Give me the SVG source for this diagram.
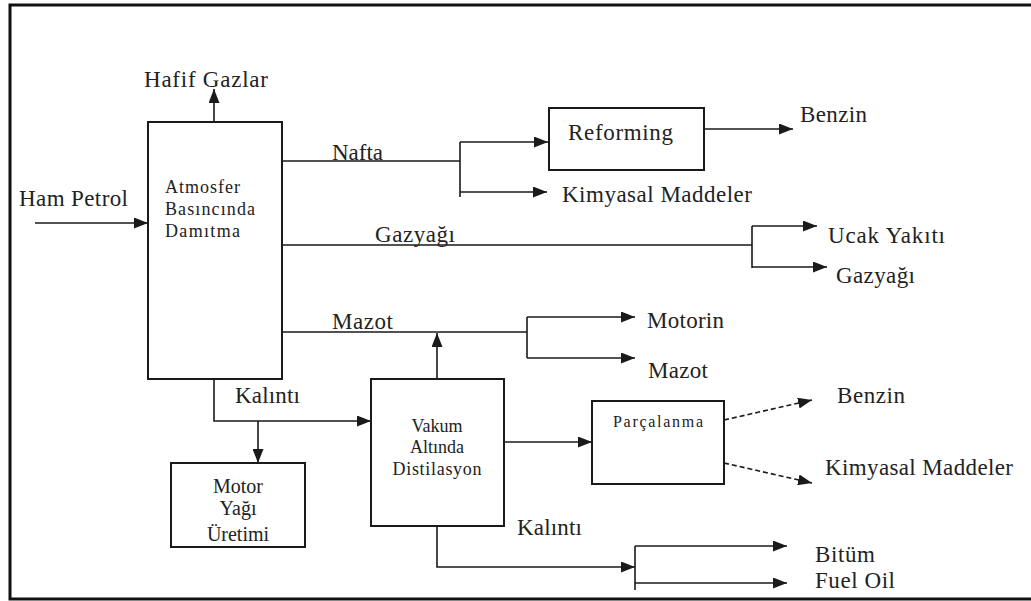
<svg xmlns="http://www.w3.org/2000/svg" width="1031" height="601" viewBox="0 0 1031 601">
<style>
.box{fill:#fff;stroke:#1a1a1a;stroke-width:2}
.ln{fill:none;stroke:#1a1a1a;stroke-width:1.6}
.dash{stroke-dasharray:5,3}
text{font-family:'Liberation Serif','DejaVu Serif',serif;fill:#222}
.t{font-size:23px}
.s{font-size:18px}
.c{text-anchor:middle}
</style>
<defs>
<marker id="ah" markerUnits="userSpaceOnUse" markerWidth="14" markerHeight="11" refX="14" refY="5.5" orient="auto">
<path d="M0,0 L14,5.5 L0,11 z" fill="#1a1a1a"/>
</marker>
</defs>
<rect width="1031" height="601" fill="#fff"/>
<path d="M1031,5 H10 V599 H1031" fill="none" stroke="#111" stroke-width="3"/>

<g id="connectors">
<path class="ln" d="M35,223 H148" marker-end="url(#ah)"/>
<path class="ln" d="M214,122 V89" marker-end="url(#ah)"/>
<path class="ln" d="M282,161 H460 M460,142 V197"/>
<path class="ln" d="M460,142 H548" marker-end="url(#ah)"/>
<path class="ln" d="M460,192 H547" marker-end="url(#ah)"/>
<path class="ln" d="M704,129 H793" marker-end="url(#ah)"/>
<path class="ln" d="M282,245 H752 M752,226 V268"/>
<path class="ln" d="M752,226 H817" marker-end="url(#ah)"/>
<path class="ln" d="M752,267 H827" marker-end="url(#ah)"/>
<path class="ln" d="M282,332 H527 M527,317 V358"/>
<path class="ln" d="M527,317 H635" marker-end="url(#ah)"/>
<path class="ln" d="M527,358 H635" marker-end="url(#ah)"/>
<path class="ln" d="M437,379 V333" marker-end="url(#ah)"/>
<path class="ln" d="M214,379 V421 H371" marker-end="url(#ah)"/>
<path class="ln" d="M258,421 V463" marker-end="url(#ah)"/>
<path class="ln" d="M504,442 H592" marker-end="url(#ah)"/>
<path class="ln dash" d="M724,420 L812,400" marker-end="url(#ah)"/>
<path class="ln dash" d="M724,463 L812,483" marker-end="url(#ah)"/>
<path class="ln" d="M437,526 V567 H635" marker-end="url(#ah)"/>
<path class="ln" d="M635,546 V590"/>
<path class="ln" d="M635,546 H787" marker-end="url(#ah)"/>
<path class="ln" d="M635,583 H787" marker-end="url(#ah)"/>
</g>

<g id="atmosfer">
<rect class="box" x="148" y="122" width="134" height="257"/>
<text class="s" x="165" y="193" textLength="75">Atmosfer</text>
<text class="s" x="165" y="215" textLength="90">Basıncında</text>
<text class="s" x="165" y="237" textLength="75">Damıtma</text>
</g>

<g id="reforming">
<rect class="box" x="549" y="108" width="155" height="62"/>
<text class="t" x="568" y="140" textLength="105">Reforming</text>
</g>

<g id="vakum">
<rect class="box" x="371" y="379" width="133" height="147"/>
<text class="s c" x="437" y="432">Vakum</text>
<text class="s c" x="437" y="453">Altında</text>
<text class="s c" x="437" y="475" textLength="89">Distilasyon</text>
</g>

<g id="motor">
<rect class="box" x="171" y="463" width="134" height="84"/>
<text class="s c" x="238" y="493" style="font-size:20px">Motor</text>
<text class="s c" x="238" y="515" style="font-size:20px">Yağı</text>
<text class="s c" x="238" y="541" style="font-size:20px">Üretimi</text>
</g>

<g id="parcalanma">
<rect class="box" x="592" y="401" width="132" height="83"/>
<text class="s" x="613" y="427" textLength="90" style="font-size:16px">Parçalanma</text>
</g>

<g id="labels">
<text class="t" x="144" y="87" textLength="124">Hafif Gazlar</text>
<text class="t" x="19" y="206" textLength="109">Ham Petrol</text>
<text class="t" x="332" y="160" textLength="51">Nafta</text>
<text class="t" x="800" y="122" textLength="67">Benzin</text>
<text class="t" x="562" y="202" textLength="190">Kimyasal Maddeler</text>
<text class="t" x="375" y="242" textLength="80">Gazyağı</text>
<text class="t" x="828" y="243" textLength="117">Ucak Yakıtı</text>
<text class="t" x="836" y="283" textLength="79">Gazyağı</text>
<text class="t" x="332" y="329" textLength="61">Mazot</text>
<text class="t" x="647" y="328" textLength="77">Motorin</text>
<text class="t" x="648" y="378" textLength="60">Mazot</text>
<text class="t" x="235" y="403" textLength="65">Kalıntı</text>
<text class="t" x="837" y="403" textLength="68">Benzin</text>
<text class="t" x="825" y="475" textLength="188">Kimyasal Maddeler</text>
<text class="t" x="517" y="535" textLength="65">Kalıntı</text>
<text class="t" x="815" y="562" textLength="60">Bitüm</text>
<text class="t" x="815" y="588" textLength="80">Fuel Oil</text>
</g>
</svg>
